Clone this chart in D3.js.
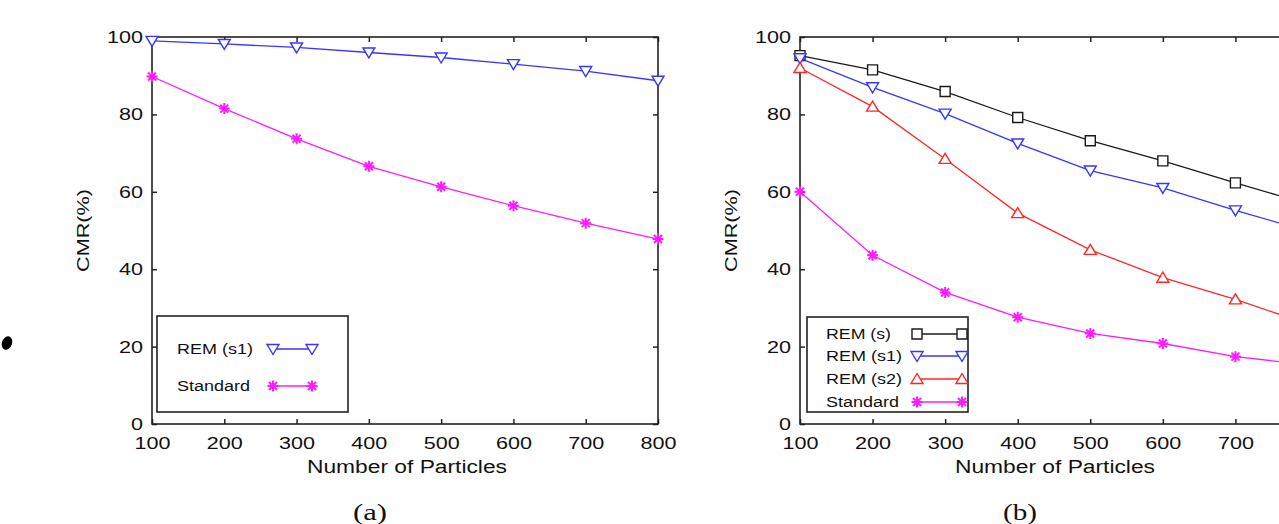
<!DOCTYPE html>
<html><head><meta charset="utf-8">
<script src="https://cdn.jsdelivr.net/npm/d3@7"></script>
<style>body{margin:0;background:#fff}svg{display:block}</style>
</head><body><svg id="c" width="1279" height="524"></svg>
<script>
// ---- data ----
const particles = [100, 200, 300, 400, 500, 600, 700, 800];
const yTicks = [0, 20, 40, 60, 80, 100];
// panel (a)
const aREMs1   = [99.0, 98.2, 97.3, 96.0, 94.7, 93.0, 91.2, 88.7];
const aStandard= [89.8, 81.5, 73.7, 66.6, 61.3, 56.4, 51.9, 47.8];
// panel (b)
const bREMs    = [95.2, 91.5, 85.9, 79.2, 73.2, 68.0, 62.3, 56.8];
const bREMs1   = [94.5, 87.0, 80.2, 72.5, 65.5, 61.0, 55.2, 49.8];
const bREMs2   = [92.0, 82.0, 68.5, 54.5, 45.0, 37.8, 32.2, 25.8];
const bStandard= [60.0, 43.6, 34.0, 27.6, 23.4, 20.8, 17.4, 15.3];
const xLabel = "Number of Particles";
const yLabel = "CMR(%)";

const C = {blue:"#3636ff", red:"#ff2626", mag:"#ff1aff", black:"#1a1a1a"};
const W = 1279;
const svg = d3.select("#c");
const FONT = "'Liberation Sans', Arial, sans-serif";

function markerPath(type){
  switch(type){
    case "tdown": return "M-6,-4.5L6,-4.5L0,5.5Z";
    case "tup": return "M-6,4.5L6,4.5L0,-5.5Z";
    case "square": return "M-5,-5H5V5H-5Z";
    case "star": return "M-5.5,0H5.5M0,-5.5V5.5M-4,-4L4,4M-4,4L4,-4";
  }
}
function drawMarker(g, type, color, x, y){
  const filled = type==="star";
  g.append("path").attr("d", markerPath(type)).attr("transform",`translate(${x},${y})`)
    .attr("fill", filled? "none":"#fff").attr("stroke", color)
    .attr("stroke-width", filled?2:1.4);
}
function fitText(sel, perChar){
  sel.each(function(){
    const t=d3.select(this), s=t.text();
    if(s.length) t.attr("textLength", perChar*s.length).attr("lengthAdjust","spacingAndGlyphs");
  });
}

function panel(opt){
  const g = svg.append("g");
  const x = d3.scaleLinear().domain([100,800]).range([opt.x0, opt.x1]);
  const y = d3.scaleLinear().domain([0,100]).range([opt.y0, opt.y1]);
  const styleAxis = a => {
    a.select(".domain").remove();
    a.selectAll("line").attr("stroke","#222").attr("stroke-width",1.5);
    a.selectAll("text").attr("font-family",FONT).attr("font-size",17).attr("fill","#111");
  };
  const ax = g.append("g").attr("transform",`translate(0,${opt.y0})`)
    .call(d3.axisBottom(x).tickValues(particles).tickFormat(d3.format("d")).tickSizeInner(-5).tickSizeOuter(0).tickPadding(13));
  styleAxis(ax); fitText(ax.selectAll("text"), 12);
  // labels falling outside the page are not shown in the reference
  ax.selectAll(".tick").filter(d => x(d) + 18 > W).select("text").remove();
  const at = g.append("g").attr("transform",`translate(0,${opt.y1})`)
    .call(d3.axisTop(x).tickValues(particles).tickFormat("").tickSizeInner(-5).tickSizeOuter(0));
  styleAxis(at);
  const ay = g.append("g").attr("transform",`translate(${opt.x0},0)`)
    .call(d3.axisLeft(y).tickValues(yTicks).tickFormat(d3.format("d")).tickSizeInner(-5).tickSizeOuter(0).tickPadding(9));
  styleAxis(ay); fitText(ay.selectAll("text"), 12);
  const ar = g.append("g").attr("transform",`translate(${opt.x1},0)`)
    .call(d3.axisRight(y).tickValues(yTicks).tickFormat("").tickSizeInner(-5).tickSizeOuter(0));
  styleAxis(ar);
  // frame
  g.append("rect").attr("x",opt.x0).attr("y",opt.y1).attr("width",opt.x1-opt.x0).attr("height",opt.y0-opt.y1)
    .attr("fill","none").attr("stroke","#222").attr("stroke-width",1.6);

  // series
  const line = d3.line().x((d,i)=>x(particles[i])).y(d=>y(d));
  opt.series.forEach(s=>{
    g.append("path").datum(s.values).attr("d",line).attr("fill","none")
      .attr("stroke",s.color).attr("stroke-width",1.3);
    s.values.forEach((v,i)=>drawMarker(g, s.marker, s.color, x(particles[i]), y(v)));
  });

  // legend
  const L = opt.legend;
  g.append("rect").attr("x",L.x).attr("y",L.y).attr("width",L.w).attr("height",L.h)
    .attr("fill","#fff").attr("stroke","#222").attr("stroke-width",1.6);
  opt.series.forEach((s,i)=>{
    const yy = L.rows[i];
    const t = g.append("text").attr("x",L.tx).attr("y",yy+5).text(s.name)
      .attr("font-family",FONT).attr("font-size",14).attr("fill","#111");
    t.attr("textLength", s.tl).attr("lengthAdjust","spacingAndGlyphs");
    g.append("line").attr("x1",L.l1).attr("x2",L.l2).attr("y1",yy).attr("y2",yy)
      .attr("stroke",s.color).attr("stroke-width",1.3);
    drawMarker(g,s.marker,s.color,L.l1,yy);
    drawMarker(g,s.marker,s.color,L.l2,yy);
  });

  // labels
  g.append("text").attr("x",opt.xlx).attr("y",473).attr("text-anchor","middle")
    .attr("font-family",FONT).attr("font-size",18).attr("fill","#111")
    .attr("textLength",200).attr("lengthAdjust","spacingAndGlyphs").text(xLabel);
  g.append("text").attr("transform",`translate(${opt.ylx},${(opt.y0+opt.y1)/2}) rotate(-90)`)
    .attr("text-anchor","middle").attr("dy","0.35em")
    .attr("font-family",FONT).attr("font-size",17).attr("fill","#111")
    .attr("textLength",83).attr("lengthAdjust","spacingAndGlyphs").text(yLabel);
  g.append("text").attr("x",opt.capx).attr("y",520).attr("text-anchor","middle")
    .attr("font-family","'Liberation Serif','Times New Roman',serif").attr("font-size",24)
    .attr("textLength",34).attr("lengthAdjust","spacingAndGlyphs")
    .attr("fill","#111").text(opt.caption);
}

panel({
  x0:152, x1:658, y0:424, y1:37, xlx:407, ylx:83, capx:370, caption:"(a)",
  series:[
    {name:"REM (s1)", values:aREMs1, color:C.blue, marker:"tdown", tl:76},
    {name:"Standard", values:aStandard, color:C.mag, marker:"star", tl:73}
  ],
  legend:{x:157,y:316,w:191,h:96,tx:177,l1:273,l2:312,rows:[349,386]}
});
panel({
  x0:800, x1:1308, y0:424, y1:37, xlx:1055, ylx:731, capx:1020, caption:"(b)",
  series:[
    {name:"REM (s)", values:bREMs, color:C.black, marker:"square", tl:65},
    {name:"REM (s1)", values:bREMs1, color:C.blue, marker:"tdown", tl:76},
    {name:"REM (s2)", values:bREMs2, color:C.red, marker:"tup", tl:76},
    {name:"Standard", values:bStandard, color:C.mag, marker:"star", tl:73}
  ],
  legend:{x:807,y:317,w:161,h:95,tx:826,l1:917,l2:962,rows:[334,356,379,402]}
});
// stray dot at far left
svg.append("ellipse").attr("cx",7).attr("cy",343).attr("rx",5).attr("ry",7)
  .attr("transform","rotate(20,7,343)").attr("fill","#000");
</script></body></html>
